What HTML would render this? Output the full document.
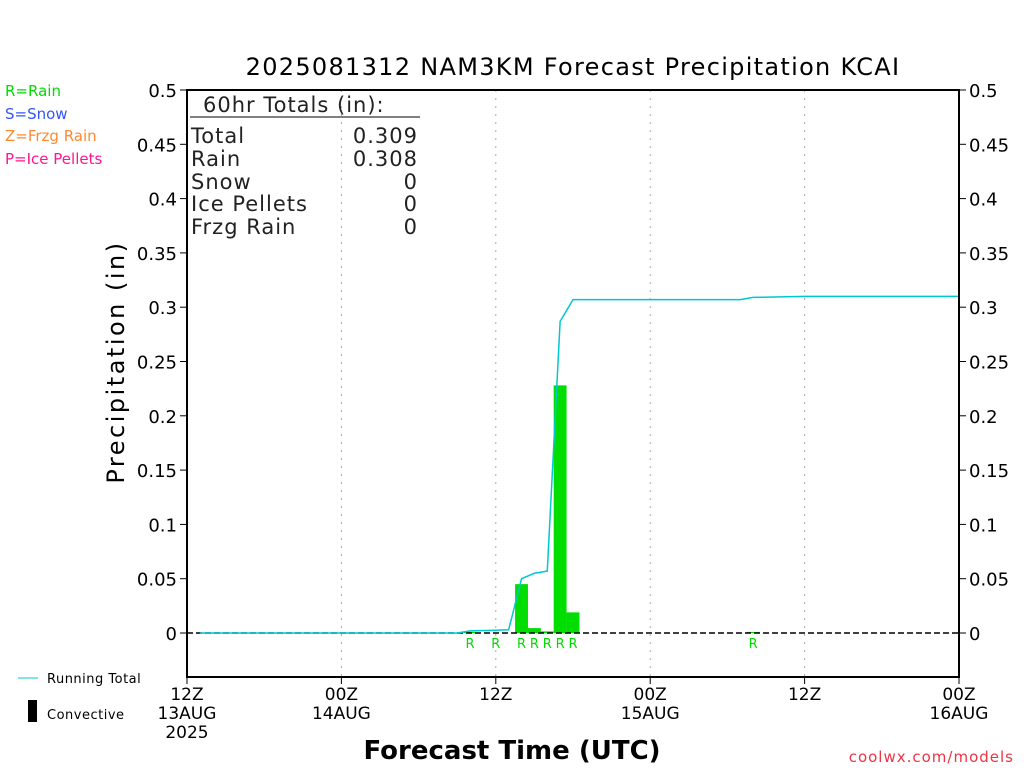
<!DOCTYPE html>
<html><head><meta charset="utf-8"><style>body{margin:0;background:#fff}svg{display:block;font-family:"DejaVu Sans","Liberation Sans",sans-serif}</style></head>
<body>
<svg id="c" width="1024" height="768">
<text x="573" y="75" font-size="24" text-anchor="middle" letter-spacing="1.3">2025081312 NAM3KM Forecast Precipitation KCAI</text>
<g font-size="15">
<text x="5" y="96" fill="#00dd00">R=Rain</text>
<text x="5" y="119" fill="#3355ff">S=Snow</text>
<text x="5" y="141" fill="#ff8833">Z=Frzg Rain</text>
<text x="5" y="164" fill="#ff1493">P=Ice Pellets</text>
</g>
<g id="grid"></g>
<g id="marks"></g>
<rect x="187" y="90" width="772" height="587" fill="none" stroke="#000" stroke-width="2"/>
<g id="axes"></g>
<g font-size="21" fill="#222" letter-spacing="1">
<text x="203" y="112">60hr Totals (in):</text>
<line x1="190" y1="117" x2="420" y2="117" stroke="#000"/>
<text x="191" y="143">Total</text><text x="418" y="143" text-anchor="end">0.309</text>
<text x="191" y="166">Rain</text><text x="418" y="166" text-anchor="end">0.308</text>
<text x="191" y="189">Snow</text><text x="418" y="189" text-anchor="end">0</text>
<text x="191" y="211">Ice Pellets</text><text x="418" y="211" text-anchor="end">0</text>
<text x="191" y="234">Frzg Rain</text><text x="418" y="234" text-anchor="end">0</text>
</g>
<text transform="translate(124,362) rotate(-90)" font-size="24" text-anchor="middle" letter-spacing="2.5">Precipitation (in)</text>
<text x="512" y="759" font-size="26" text-anchor="middle" font-weight="bold">Forecast Time (UTC)</text>
<text x="1014" y="762" font-size="15" fill="#ee3344" text-anchor="end" letter-spacing="1">coolwx.com/models</text>
<line x1="18" y1="678" x2="38" y2="678" stroke="#00c8d0"/>
<text x="47" y="683" font-size="13" letter-spacing="0.5">Running Total</text>
<rect x="28" y="700" width="9" height="22" fill="#000"/>
<text x="47" y="719" font-size="13" letter-spacing="0.5">Convective</text>
</svg>
<script>
const yTicks=[0,0.05,0.1,0.15,0.2,0.25,0.3,0.35,0.4,0.45,0.5];
const xTickHours=[0,12,24,36,48,60];
const xTickLabels=[["12Z","13AUG","2025"],["00Z","14AUG"],["12Z"],["00Z","15AUG"],["12Z"],["00Z","16AUG"]];
const barHours=[22,26,27,28,29,30,44];
const barValues=[0.001,0.045,0.0045,0.0015,0.228,0.019,0.001];
const rLabelHours=[22,24,26,27,28,29,30,44];
const totalHours=[1,21,22,24,25,26,27,28,29,30,43,44,48,60];
const totalValues=[0,0,0.002,0.0025,0.003,0.05,0.055,0.057,0.287,0.307,0.307,0.309,0.31,0.31];
const X=h=>187+h*772/60, Y=v=>633-v*1086;
const NS="http://www.w3.org/2000/svg";
function mk(t,a,p,txt){const e=document.createElementNS(NS,t);for(const k in a)e.setAttribute(k,a[k]);if(txt!=null)e.textContent=txt;p.appendChild(e);return e;}
const grid=document.getElementById('grid'),marks=document.getElementById('marks'),axes=document.getElementById('axes');
xTickHours.forEach((h,i)=>{
 if(i>0&&i<xTickHours.length-1){const g=mk('line',{x1:X(h),x2:X(h),y1:90,y2:677,stroke:'#aaa','stroke-dasharray':'2,6'},grid);
 }
 const t=mk('line',{x1:X(h),x2:X(h),y1:677,y2:684,stroke:'#000'},axes);
 
 xTickLabels[i].forEach((s,j)=>{const l=mk('text',{x:X(h),y:700+j*19,'font-size':17,'text-anchor':'middle'},axes,s);
 });
});
yTicks.forEach(v=>{
 [[187,-7,'end',177],[959,7,'start',969]].forEach(([x0,d,anc,tx])=>{
  const t=mk('line',{x1:x0,x2:x0+d,y1:Y(v),y2:Y(v),stroke:'#000'},axes);
  
  const l=mk('text',{x:tx,y:Y(v)+7,'font-size':18,'text-anchor':anc},axes,String(v));
  
 });
});
const w=772/60;
barHours.forEach((h,i)=>{const v=barValues[i];
 const b=mk('rect',{x:X(h)-w/2,y:Y(v),width:w,height:Math.max(Y(0)-Y(v),1),fill:'#00dd00'},marks);
 });
const z=mk('line',{x1:187,x2:959,y1:Y(0),y2:Y(0),stroke:'#000','stroke-dasharray':'6,3','stroke-width':1.5},marks);

rLabelHours.forEach(h=>{const l=mk('text',{x:X(h),y:648,'font-size':13,fill:'#00dd00','text-anchor':'middle'},marks,'R');
 });
const pl=mk('polyline',{points:totalHours.map((h,i)=>X(h)+','+Y(totalValues[i])).join(' '),fill:'none',stroke:'#00c8d0','stroke-width':1.5},marks);

</script>
</body></html>
